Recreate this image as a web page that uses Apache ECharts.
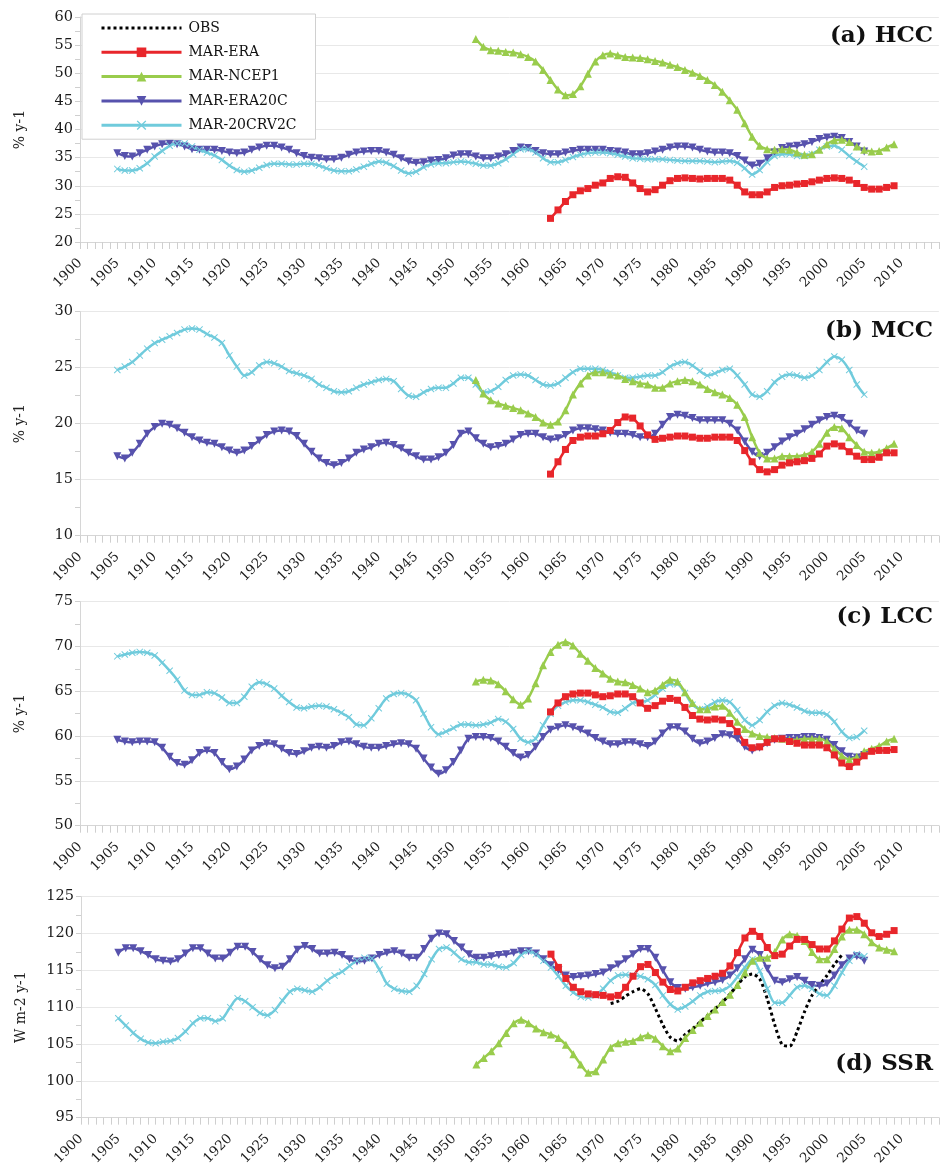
<!DOCTYPE html>
<html><head><meta charset="utf-8">
<script src="https://cdn.jsdelivr.net/npm/echarts@6/dist/echarts.min.js"></script>
<style>html,body{margin:0;padding:0;background:#fff}#c{width:941px;height:1168px}</style>
</head><body><div id="c"></div>
<script>
// ---- data ----
const seriesNames = ['OBS', 'MAR-ERA', 'MAR-NCEP1', 'MAR-ERA20C', 'MAR-20CRV2C'];
const panelTitles = ['(a) HCC', '(b) MCC', '(c) LCC', '(d) SSR'];
const yNames = ['% y-1', '% y-1', '% y-1', 'W m-2 y-1'];
const yMins = [20, 10, 50, 95];
const yMaxs = [60, 30, 75, 125];
const startEra = 1963, startNcep = 1953, startEra20c = 1905, start20cr = 1905, startObs = 1971;

const hccEra20c = [
35.8,35.3,35.2,35.8,36.4,37.0,37.4,37.5,37.4,37.0,
36.5,36.4,36.4,36.4,36.2,35.9,35.8,35.9,36.4,36.8,
37.1,37.1,36.8,36.4,35.8,35.3,35.0,34.9,34.7,34.7,
35.0,35.5,35.9,36.1,36.2,36.2,35.9,35.5,34.9,34.3,
34.1,34.2,34.5,34.6,34.9,35.4,35.6,35.6,35.2,34.9,
34.9,35.2,35.6,36.2,36.8,36.7,36.2,35.8,35.6,35.6,
35.9,36.2,36.4,36.4,36.4,36.4,36.2,36.1,35.9,35.6,
35.6,35.8,36.1,36.4,36.8,37.0,37.0,36.8,36.4,36.1,
35.9,35.9,35.8,35.3,34.5,33.6,33.9,34.9,35.9,36.7,
37.0,37.1,37.4,37.8,38.3,38.6,38.7,38.5,37.8,37.0,36.1];
const hcc20cr = [
33.0,32.7,32.7,33.1,34.0,35.2,36.2,37.1,37.5,37.5,
37.0,36.4,35.9,35.4,34.6,33.6,32.8,32.5,32.7,33.2,
33.7,33.9,33.9,33.8,33.8,33.9,33.9,33.6,33.1,32.7,
32.6,32.6,32.9,33.4,33.9,34.3,34.1,33.5,32.7,32.2,
32.5,33.3,33.8,34.0,34.0,34.2,34.3,34.2,33.9,33.6,
33.6,34.0,34.7,35.6,36.5,36.5,35.9,34.9,34.2,34.2,
34.6,35.1,35.5,35.8,35.9,35.9,35.8,35.5,35.2,34.9,
34.8,34.7,34.7,34.7,34.6,34.5,34.4,34.4,34.4,34.3,
34.2,34.3,34.4,34.1,33.1,32.0,32.8,34.2,35.3,35.6,
35.6,35.3,35.3,35.6,36.4,37.0,37.1,36.4,35.3,34.3,33.4];
const hccNcep = [
56.1,54.7,54.1,54.0,53.8,53.7,53.4,52.9,52.1,50.6,
48.8,47.1,46.1,46.3,47.7,49.9,52.1,53.2,53.5,53.2,
52.9,52.8,52.7,52.5,52.2,51.9,51.5,51.1,50.6,50.1,
49.5,48.8,47.9,46.7,45.2,43.5,41.1,38.7,37.1,36.5,
36.4,36.5,36.4,35.9,35.5,35.6,36.4,37.4,38.1,38.2,
37.8,37.0,36.4,36.1,36.2,36.8,37.4];
const hccEra = [
24.2,25.7,27.2,28.4,29.1,29.5,30.1,30.5,31.3,31.6,
31.5,30.5,29.5,28.9,29.3,30.1,30.9,31.3,31.4,31.3,
31.2,31.3,31.3,31.3,31.0,30.1,28.9,28.4,28.4,28.9,
29.7,30.0,30.1,30.3,30.4,30.7,31.0,31.3,31.4,31.3,
31.0,30.4,29.7,29.4,29.4,29.7,30.0];

const mccEra20c = [
17.1,16.9,17.4,18.2,19.1,19.7,20.0,19.9,19.6,19.2,
18.8,18.5,18.3,18.2,17.9,17.6,17.4,17.6,18.0,18.5,
19.0,19.3,19.4,19.3,18.9,18.2,17.5,16.9,16.5,16.3,
16.5,16.9,17.4,17.7,17.9,18.2,18.3,18.1,17.8,17.4,
17.1,16.8,16.8,17.0,17.4,18.1,19.1,19.3,18.7,18.2,
17.9,18.0,18.2,18.6,19.0,19.1,19.1,18.8,18.6,18.7,
19.0,19.4,19.6,19.6,19.5,19.4,19.2,19.1,19.1,19.0,
18.8,18.8,19.1,19.9,20.6,20.8,20.7,20.5,20.3,20.3,
20.3,20.3,20.0,19.4,18.4,17.5,17.1,17.4,17.9,18.4,
18.8,19.1,19.5,19.9,20.3,20.6,20.7,20.5,20.0,19.4,19.1];
const mcc20cr = [
24.8,25.1,25.5,26.1,26.7,27.2,27.5,27.8,28.1,28.4,
28.5,28.4,28.0,27.7,27.2,26.1,25.1,24.3,24.6,25.2,
25.5,25.4,25.1,24.7,24.5,24.3,24.0,23.5,23.2,22.9,
22.8,22.9,23.2,23.5,23.7,23.9,24.0,23.8,23.1,22.5,
22.4,22.8,23.1,23.2,23.2,23.6,24.1,24.1,23.5,22.8,
22.9,23.3,23.9,24.3,24.4,24.3,23.9,23.5,23.4,23.6,
24.1,24.6,24.9,24.9,24.9,24.8,24.6,24.3,24.1,24.1,
24.2,24.3,24.3,24.6,25.1,25.4,25.5,25.2,24.7,24.3,
24.5,24.8,24.9,24.3,23.5,22.6,22.4,22.9,23.7,24.2,
24.4,24.3,24.1,24.3,24.8,25.5,26.0,25.7,24.8,23.5,22.6];
const mccNcep = [
23.9,22.7,22.1,21.8,21.6,21.4,21.2,20.9,20.6,20.1,
19.9,20.2,21.2,22.6,23.6,24.3,24.6,24.6,24.4,24.3,
24.0,23.8,23.6,23.5,23.2,23.2,23.6,23.8,23.9,23.8,
23.5,23.1,22.8,22.6,22.3,21.7,20.6,18.8,17.4,16.9,
16.9,17.1,17.1,17.1,17.2,17.5,18.2,19.2,19.7,19.6,
18.8,18.1,17.5,17.4,17.5,17.8,18.2];
const mccEra = [
15.5,16.6,17.7,18.5,18.8,18.9,18.9,19.1,19.4,20.1,
20.6,20.5,19.8,19.0,18.6,18.7,18.8,18.9,18.9,18.8,
18.7,18.7,18.8,18.8,18.8,18.5,17.6,16.6,15.9,15.7,
15.9,16.3,16.5,16.6,16.7,16.9,17.3,18.0,18.2,18.0,
17.5,17.1,16.8,16.8,17.0,17.4,17.4];

const lccEra20c = [
59.6,59.4,59.3,59.4,59.4,59.3,58.7,57.7,57.0,56.8,
57.3,58.1,58.4,58.1,57.1,56.3,56.6,57.4,58.4,58.9,
59.2,59.1,58.6,58.1,58.0,58.3,58.7,58.8,58.7,58.9,
59.3,59.4,59.1,58.8,58.7,58.7,58.9,59.1,59.2,59.1,
58.6,57.5,56.5,55.8,56.2,57.1,58.4,59.7,59.9,59.9,
59.8,59.4,58.8,58.1,57.6,57.9,58.8,59.9,60.7,61.0,
61.2,61.0,60.7,60.3,59.8,59.4,59.1,59.1,59.3,59.3,
59.1,58.9,59.4,60.3,61.0,61.0,60.5,59.7,59.2,59.4,
59.8,60.2,60.1,59.7,58.8,58.4,58.7,59.2,59.6,59.7,
59.8,59.8,59.9,59.9,59.8,59.6,59.0,58.3,57.7,57.6,57.9];
const lcc20cr = [
68.9,69.1,69.3,69.4,69.3,69.0,68.2,67.3,66.3,65.1,
64.6,64.6,64.9,64.8,64.3,63.7,63.7,64.4,65.5,66.0,
65.8,65.3,64.5,63.8,63.2,63.1,63.3,63.4,63.3,63.0,
62.6,62.1,61.3,61.2,62.0,63.1,64.2,64.7,64.8,64.6,
64.0,62.5,61.0,60.2,60.5,60.9,61.3,61.3,61.2,61.3,
61.5,61.9,61.6,60.8,59.7,59.3,59.7,61.2,62.5,63.4,
63.8,64.0,64.0,63.8,63.5,63.2,62.7,62.6,63.1,63.7,
63.8,64.0,64.6,65.3,65.8,65.8,64.8,63.5,63.0,63.3,
63.8,64.0,63.8,62.9,61.8,61.2,61.8,62.7,63.4,63.7,
63.5,63.2,62.8,62.6,62.6,62.4,61.6,60.5,59.8,59.9,60.6];
const lccNcep = [
66.1,66.3,66.2,65.8,65.0,64.1,63.5,64.2,65.9,67.9,
69.4,70.2,70.5,70.1,69.2,68.4,67.6,67.0,66.4,66.1,
66.0,65.7,65.3,64.9,65.1,65.7,66.3,66.1,64.9,63.7,
63.0,63.0,63.3,63.4,62.6,61.6,60.8,60.3,60.0,59.9,
59.8,59.7,59.6,59.6,59.7,59.7,59.7,59.4,58.6,57.8,
57.4,57.7,58.3,58.6,58.9,59.4,59.7];
const lccEra = [
62.7,63.7,64.4,64.7,64.8,64.8,64.6,64.4,64.5,64.7,
64.7,64.4,63.7,63.1,63.4,63.9,64.2,64.0,63.2,62.3,
61.9,61.8,61.9,61.8,61.4,60.5,59.3,58.7,58.8,59.3,
59.7,59.7,59.4,59.2,59.0,59.0,59.0,58.7,57.9,57.0,
56.6,57.1,57.8,58.3,58.4,58.4,58.5];

const ssrEra20c = [
117.4,118.0,118.0,117.6,117.1,116.5,116.3,116.2,116.5,117.3,
118.0,118.0,117.3,116.6,116.6,117.4,118.2,118.2,117.5,116.5,
115.7,115.3,115.5,116.5,117.8,118.3,117.9,117.3,117.3,117.4,
117.1,116.5,116.2,116.3,116.6,117.1,117.4,117.6,117.3,116.7,
116.7,117.9,119.3,120.0,119.9,119.0,118.1,117.2,116.7,116.7,
116.9,117.1,117.2,117.4,117.6,117.6,117.3,116.5,115.7,115.0,
114.3,114.1,114.2,114.3,114.5,114.7,115.3,115.8,116.5,117.2,
117.9,117.9,116.7,115.0,113.4,112.6,112.5,112.7,112.9,113.2,
113.4,113.7,114.3,115.3,116.5,117.8,117.1,115.2,113.6,113.4,
113.8,114.1,113.6,113.0,112.9,113.2,114.3,115.7,116.6,116.9,116.3];
const ssr20cr = [
108.5,107.5,106.5,105.7,105.2,105.1,105.3,105.4,105.8,106.7,
107.8,108.5,108.5,108.1,108.5,110.0,111.2,110.8,110.0,109.2,
108.9,109.6,110.9,112.1,112.5,112.3,112.1,112.7,113.6,114.3,
114.8,115.6,116.3,116.7,116.6,115.1,113.2,112.5,112.2,112.1,
112.9,114.5,116.5,117.9,118.1,117.4,116.5,116.1,116.1,115.8,
115.8,115.5,115.4,116.0,117.1,117.6,117.2,116.3,115.4,114.2,
112.9,112.0,111.4,111.3,111.6,112.5,113.6,114.3,114.4,114.3,
114.2,113.8,113.0,111.6,110.4,109.7,110.1,110.8,111.6,112.1,
112.2,112.3,112.9,114.1,115.4,116.5,114.9,112.5,110.6,110.6,
111.6,112.7,112.9,112.5,111.8,111.6,112.9,114.7,116.3,117.2,116.9];
const ssrNcep = [
102.2,103.1,104.0,105.1,106.5,107.8,108.3,107.8,107.1,106.6,
106.3,105.8,104.9,103.6,102.2,101.1,101.3,102.9,104.5,105.1,
105.3,105.4,105.9,106.2,105.7,104.7,104.0,104.4,105.8,106.9,
107.9,108.8,109.7,110.7,111.7,113.0,114.7,116.3,116.7,116.7,
117.5,119.2,119.9,119.7,119.0,117.5,116.5,116.5,117.9,119.6,
120.5,120.5,119.9,118.8,118.1,117.8,117.6];
const ssrEra = [
117.2,115.4,113.9,112.7,112.1,111.8,111.7,111.6,111.4,111.6,
112.7,114.2,115.5,115.8,114.7,113.4,112.4,112.2,112.7,113.3,
113.6,113.9,114.2,114.6,115.6,117.4,119.4,120.3,119.6,118.1,
117.0,117.2,118.3,119.2,119.2,118.5,117.9,117.9,119.0,120.6,
122.1,122.3,121.4,120.1,119.6,119.9,120.4];
const ssrObs = [
110.5,110.8,111.5,112.1,112.5,111.8,109.8,107.6,105.9,105.4,
106.3,107.1,108.0,108.9,109.8,110.7,111.8,113.0,114.1,114.5,
113.8,111.1,107.6,104.9,104.7,106.7,109.4,111.6,113.0,114.3,
115.8,117.1];

// ---- chart ----
const FONT = 'DejaVu Serif';
const gridTops = [17, 311.7, 601.7, 896.7];
const gridHeights = [225, 224, 224, 224];
const gridLefts = [80, 80, 80, 81];
const xPath = 'path://M0,1 L1,0 L5,4 L9,0 L10,1 L6,5 L10,9 L9,10 L5,6 L1,10 L0,9 L4,5 Z';
const styles = {
  'OBS': {color: '#000000', symbol: 'none', lineStyle: {type: 'dotted', width: 3}},
  'MAR-ERA': {color: '#e8262b', symbol: 'rect', symbolSize: 7, lineStyle: {width: 2.5}},
  'MAR-NCEP1': {color: '#99cc4c', symbol: 'triangle', symbolSize: 8, lineStyle: {width: 2.5}},
  'MAR-ERA20C': {color: '#5752ad', symbol: 'triangle', symbolRotate: 180, symbolSize: 8, lineStyle: {width: 2.5}},
  'MAR-20CRV2C': {color: '#70cbdc', symbol: xPath, symbolSize: 7, lineStyle: {width: 2.5}}
};
function pairs(start, arr) { return arr.map((v, i) => [start + i, v]); }

const panels = [
  [['MAR-ERA20C', startEra20c, hccEra20c], ['MAR-20CRV2C', start20cr, hcc20cr], ['MAR-NCEP1', startNcep, hccNcep], ['MAR-ERA', startEra, hccEra]],
  [['MAR-ERA20C', startEra20c, mccEra20c], ['MAR-20CRV2C', start20cr, mcc20cr], ['MAR-NCEP1', startNcep, mccNcep], ['MAR-ERA', startEra, mccEra]],
  [['MAR-ERA20C', startEra20c, lccEra20c], ['MAR-20CRV2C', start20cr, lcc20cr], ['MAR-NCEP1', startNcep, lccNcep], ['MAR-ERA', startEra, lccEra]],
  [['MAR-ERA20C', startEra20c, ssrEra20c], ['MAR-20CRV2C', start20cr, ssr20cr], ['MAR-NCEP1', startNcep, ssrNcep], ['MAR-ERA', startEra, ssrEra], ['OBS', startObs, ssrObs]]
];

const grids = [], xAxes = [], yAxes = [], series = [], titles = [];
const titleCenters = [38, 333, 619, 1066];
for (let p = 0; p < 4; p++) {
  const left = gridLefts[p];
  grids.push({left: left, top: gridTops[p], height: gridHeights[p], width: 115 * 7.6});
  xAxes.push({
    type: 'value', gridIndex: p, min: 1900, max: 2015, interval: 5,
    axisLine: {show: true, lineStyle: {color: '#d6d6d6', width: 1}},
    axisTick: {show: true, length: 7, lineStyle: {color: '#cfcfcf'}},
    minorTick: {show: true, splitNumber: 5, length: 7, lineStyle: {color: '#cfcfcf'}},
    splitLine: {show: false},
    axisLabel: {
      rotate: 45, margin: 19, fontFamily: FONT, fontSize: 13.5, color: '#1a1a1a',
      formatter: v => (v <= 2010 && v % 5 === 0) ? String(v) : ''
    }
  });
  yAxes.push({
    type: 'value', gridIndex: p, min: yMins[p], max: yMaxs[p], interval: 5,
    axisLine: {show: true, lineStyle: {color: '#d6d6d6', width: 1}},
    axisTick: {show: true, length: 5, lineStyle: {color: '#cfcfcf'}},
    minorTick: {show: true, splitNumber: 2, length: 5, lineStyle: {color: '#cfcfcf'}},
    splitLine: {show: true, lineStyle: {color: '#e8e8e8', width: 1}},
    axisLabel: {fontFamily: FONT, fontSize: 14.5, color: '#1a1a1a', margin: 7},
    name: yNames[p], nameLocation: 'middle', nameGap: 53, nameRotate: 90,
    nameTextStyle: {fontFamily: FONT, fontSize: 14, color: '#222'}
  });
  titles.push({
    text: panelTitles[p], right: 3, top: titleCenters[p] - 18,
    textStyle: {fontFamily: FONT, fontWeight: 'bold', fontSize: 23, color: '#111'}
  });
  panels[p].forEach(([name, start, arr]) => {
    const st = styles[name];
    series.push({
      type: 'line', name: name, xAxisIndex: p, yAxisIndex: p,
      data: pairs(start, arr),
      color: st.color, symbol: st.symbol, symbolSize: st.symbolSize || 4,
      symbolRotate: st.symbolRotate || 0, showSymbol: st.symbol !== 'none',
      smooth: 0.25,
      lineStyle: Object.assign({color: st.color}, st.lineStyle),
      itemStyle: {color: st.color},
      emphasis: {disabled: true}, z: 2
    });
  });
}

const legendData = seriesNames.map(n => n === 'OBS'
  ? {name: n, itemStyle: {color: 'rgba(0,0,0,0)', borderColor: 'rgba(0,0,0,0)', borderWidth: 0}}
  : {name: n});

const chart = echarts.init(document.getElementById('c'), null, {renderer: 'canvas'});
chart.setOption({
  animation: false,
  backgroundColor: '#ffffff',
  title: titles,
  grid: grids, xAxis: xAxes, yAxis: yAxes, series: series,
  legend: {
    data: legendData, orient: 'vertical', left: 82, top: 14,
    itemWidth: 80, itemHeight: 12, itemGap: 10.3,
    padding: [7, 19, 7, 18],
    lineStyle: {width: 3},
    backgroundColor: '#ffffff', borderColor: '#d0d0d0', borderWidth: 1, borderRadius: 0,
    textStyle: {fontFamily: FONT, fontSize: 14, lineHeight: 14, color: '#111', padding: [0, 0, 0, 2]},
    selectedMode: false, z: 10
  }
});
</script>
</body></html>
